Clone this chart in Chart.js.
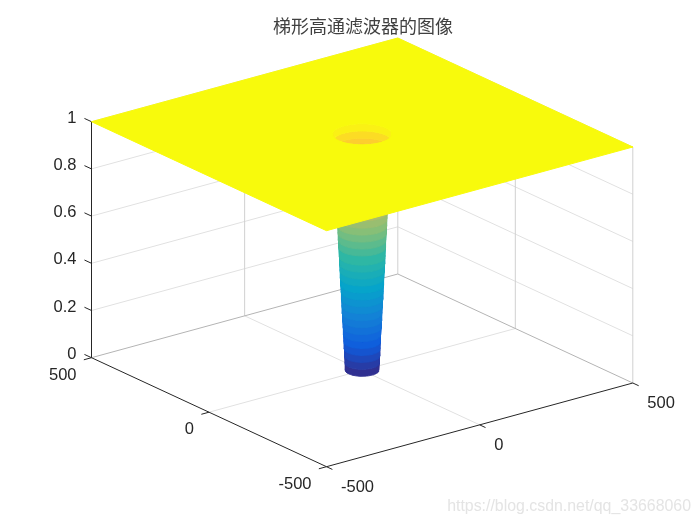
<!DOCTYPE html>
<html>
<head>
<meta charset="utf-8">
<style>
  body { margin: 0; background: #fff; }
  canvas { display: block; }
</style>
</head>
<body>
<canvas id="surfChart" width="700" height="525"></canvas>
<script src="https://cdn.jsdelivr.net/npm/chart.js@4/dist/chart.umd.min.js"></script>
<script>
// chart data
const titleText = "梯形高通滤波器的图像";
const watermarkText = "https://blog.csdn.net/qq_33668060";
const xTicks = [-500, 0, 500];
const yTicks = [-500, 0, 500];
const zTicks = [0, 0.2, 0.4, 0.6, 0.8, 1];
// filter profile: distance from the centre and gain at that distance
const wellRadius = [43, 44, 45, 46, 47, 48, 49, 50, 51, 52, 53, 54, 55, 56, 57, 58, 59,
  60, 61, 62, 63, 64, 65, 66, 67, 68, 69, 70, 71, 72, 73, 74, 75, 76, 77];
const wellGain = [0, 0.03, 0.06, 0.09, 0.12, 0.15, 0.18, 0.21, 0.24, 0.27, 0.30, 0.33, 0.36, 0.39, 0.42, 0.45, 0.48,
  0.52, 0.55, 0.58, 0.61, 0.64, 0.67, 0.70, 0.73, 0.76, 0.79, 0.82, 0.85, 0.88, 0.90, 0.92, 0.94, 0.97, 1];

// parula colormap
const parula = ["#352a87", "#0f5cdd", "#1481d6", "#06a4ca", "#2eb7a4", "#87bf77", "#d1bb59", "#fec832", "#f9fb0e"];

const gridColor = "#e1e1e1";
const edgeColor = "#b4b4b4";
const wallColor = "#d0d0d0";
const axisColor = "#262626";
const planeColor = "#f8fa0c";

// orthographic view, in page pixels
function project(x, y, z) {
  return {
    x: 362.15 + 0.3063 * x - 0.235 * y,
    y: 370.35 - 0.0837 * x - 0.109 * y - 236 * z,
  };
}

// the view's silhouette direction on a circle
const splitAngle = Math.atan2(-0.235, 0.3063);

function ringArc(radius, z, start, end) {
  let pts = [];
  let steps = 48;
  for (let i = 0; i <= steps; i++) {
    let a = start + (end - start) * i / steps;
    pts.push(project(radius * Math.cos(a), radius * Math.sin(a), z));
  }
  return pts;
}

function parulaColor(v) {
  let p = Math.max(0, Math.min(v, 0.9999)) * (parula.length - 1);
  let i = Math.floor(p);
  let t = p - i;
  let c = [1, 3, 5].map((k) => {
    let a = parseInt(parula[i].substr(k, 2), 16);
    let b = parseInt(parula[i + 1].substr(k, 2), 16);
    return Math.round(a + (b - a) * t);
  });
  return "rgb(" + c.join(",") + ")";
}

let datasets = [];

function addLine(pts, color) {
  datasets.push({
    data: pts,
    showLine: true,
    borderColor: color,
    borderWidth: 1,
    pointRadius: 0,
    fill: false,
    clip: false,
  });
}

function addShape(pts, color) {
  datasets.push({
    data: pts,
    showLine: true,
    borderColor: color,
    backgroundColor: color,
    borderWidth: 1,
    pointRadius: 0,
    fill: "shape",
    clip: false,
  });
}

const xMin = xTicks[0], xMax = xTicks[xTicks.length - 1];
const yMin = yTicks[0], yMax = yTicks[yTicks.length - 1];
const zMin = zTicks[0], zMax = zTicks[zTicks.length - 1];

// back walls, floor grid
zTicks.slice(1).forEach((z) => {
  addLine([project(xMin, yMax, z), project(xMax, yMax, z), project(xMax, yMin, z)], gridColor);
});
addLine([project(0, yMin, 0), project(0, yMax, 0)], gridColor);
addLine([project(xMin, 0, 0), project(xMax, 0, 0)], gridColor);
addLine([project(0, yMax, zMin), project(0, yMax, zMax)], wallColor);
addLine([project(xMax, 0, zMin), project(xMax, 0, zMax)], wallColor);
addLine([project(xMax, yMax, zMin), project(xMax, yMax, zMax)], wallColor);
addLine([project(xMax, yMin, zMin), project(xMax, yMin, zMax)], wallColor);
addLine([project(xMin, yMax, 0), project(xMax, yMax, 0), project(xMax, yMin, 0)], edgeColor);

// axis lines and tick marks
addLine([project(xMin, yMax, zMin), project(xMin, yMax, zMax)], axisColor);
addLine([project(xMin, yMax, 0), project(xMin, yMin, 0), project(xMax, yMin, 0)], axisColor);
zTicks.forEach((z) => addLine([project(xMin, yMax, z), project(xMin, yMax + 30, z)], axisColor));
yTicks.forEach((y) => addLine([project(xMin, y, 0), project(xMin - 25, y, 0)], axisColor));
xTicks.forEach((x) => addLine([project(x, yMin, 0), project(x, yMin - 25, 0)], axisColor));

// the well, far wall first and then near wall
// far wall reads a touch darker through the hole in the reference, fading out at the rim
for (let i = 0; i < wellRadius.length - 1; i++) {
  let g = (wellGain[i] + wellGain[i + 1]) / 2;
  let color = parulaColor(g - 0.04 * Math.min(1, (1 - g) / 0.06));
  let low = ringArc(wellRadius[i], wellGain[i], splitAngle, splitAngle + Math.PI);
  let high = ringArc(wellRadius[i + 1], wellGain[i + 1], splitAngle, splitAngle + Math.PI);
  addShape(low.concat(high.reverse(), [low[0]]), color);
}
for (let i = 0; i < wellRadius.length - 1; i++) {
  let color = parulaColor((wellGain[i] + wellGain[i + 1]) / 2);
  let low = ringArc(wellRadius[i], wellGain[i], splitAngle + Math.PI, splitAngle + 2 * Math.PI);
  let high = ringArc(wellRadius[i + 1], wellGain[i + 1], splitAngle + Math.PI, splitAngle + 2 * Math.PI);
  addShape(low.concat(high.reverse(), [low[0]]), color);
}

// flat top with the hole cut out through a bridge
let rim = ringArc(wellRadius[wellRadius.length - 1], zMax, 2 * Math.PI - Math.PI / 4, -Math.PI / 4);
addShape([
  project(xMax, yMin, zMax),
  project(xMax, yMax, zMax),
  project(xMin, yMax, zMax),
  project(xMin, yMin, zMax),
  project(xMax, yMin, zMax),
].concat(rim, [project(xMax, yMin, zMax)]), planeColor);

// chart.js draws low order on top
datasets.forEach((d, i) => { d.order = datasets.length - i; });

const labelPlugin = {
  id: "axisLabels",
  afterDraw(chart) {
    let ctx = chart.ctx;
    ctx.save();
    ctx.fillStyle = axisColor;
    ctx.font = "16.5px 'Liberation Sans'";
    ctx.textBaseline = "middle";

    ctx.textAlign = "right";
    zTicks.forEach((z) => {
      let p = project(xMin, yMax, z);
      ctx.fillText(String(z), p.x - 15, p.y - 3.5);
    });
    yTicks.forEach((y) => {
      let p = project(xMin, y, 0);
      ctx.fillText(String(y), p.x - 15, p.y + 17.5);
    });

    ctx.textAlign = "left";
    xTicks.forEach((x) => {
      let p = project(x, yMin, 0);
      ctx.fillText(String(x), p.x + 14.5, p.y + 20.5);
    });

    ctx.fillStyle = "#e4e4e4";
    ctx.font = "15.9px 'Liberation Sans'";
    ctx.textAlign = "right";
    ctx.fillText(watermarkText, 691, 507);
    ctx.restore();
  },
};

new Chart(document.getElementById("surfChart"), {
  type: "scatter",
  data: { datasets: datasets },
  plugins: [labelPlugin],
  options: {
    responsive: false,
    animation: false,
    layout: { padding: { left: 26 } },
    // one scale unit is one page pixel, the title takes the top 37
    scales: {
      x: { type: "linear", display: false, min: 26, max: 700 },
      y: { type: "linear", display: false, min: 37, max: 525, reverse: true },
    },
    plugins: {
      legend: { display: false },
      tooltip: { enabled: false },
      title: {
        display: true,
        text: titleText,
        color: "#404040",
        font: { family: "'Noto Sans CJK SC'", size: 18, weight: "normal", lineHeight: 1.2 },
        padding: { top: 15, bottom: 0.4 },
      },
    },
  },
});
</script>
</body>
</html>
